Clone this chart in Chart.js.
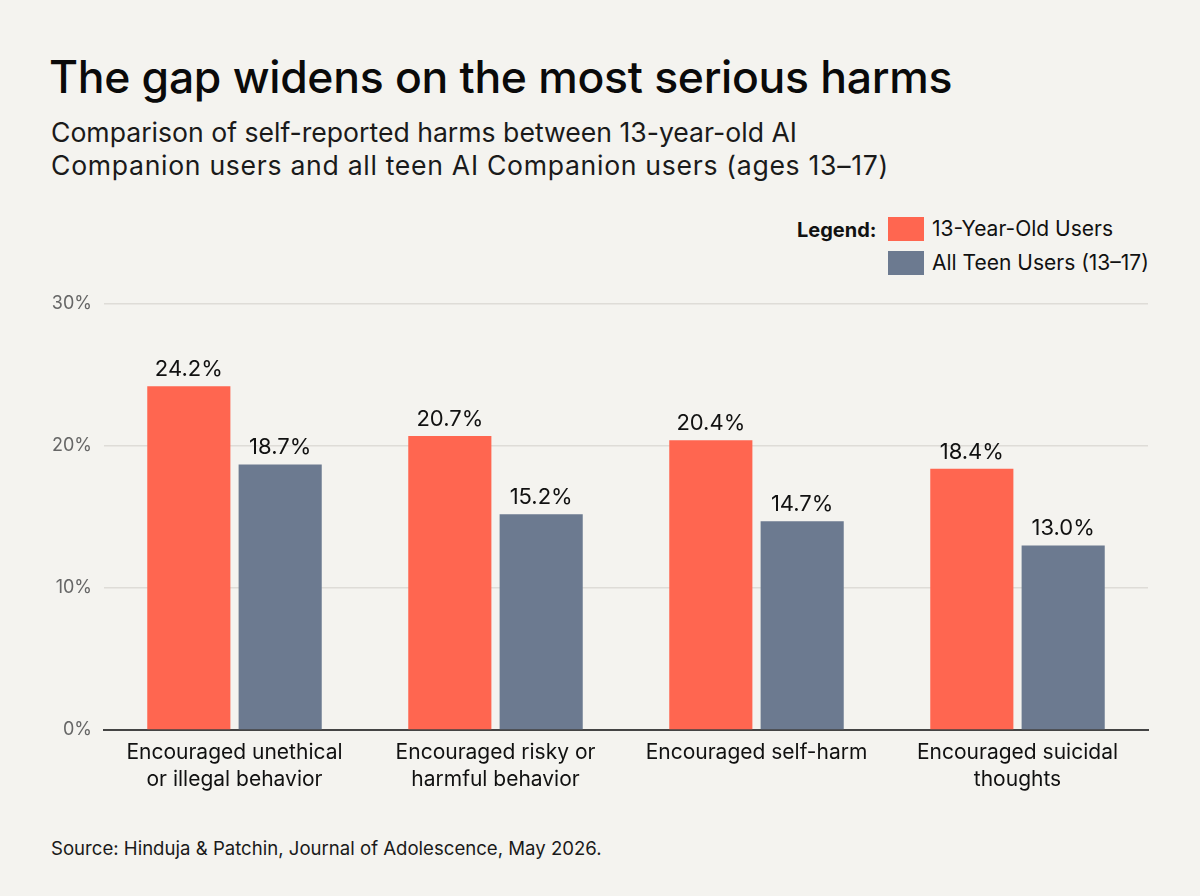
<!DOCTYPE html>
<html>
<head>
<meta charset="utf-8">
<script src="https://cdn.jsdelivr.net/npm/chart.js@4"></script>
<style>
  html, body { margin:0; padding:0; background:#F4F3EF; }
  body { width:1200px; height:896px; position:relative; overflow:hidden; font-family: Inter, "Noto Sans", sans-serif; color:#111; }
  #title { position:absolute; left:49px; top:50px; font-size:44.5px; font-weight:500; letter-spacing:-0.3px; line-height:54px; white-space:nowrap; color:#0a0a0a; }
  #subtitle { position:absolute; left:51px; top:116px; font-size:26.6px; font-weight:400; line-height:33px; color:#1a1a1a; white-space:nowrap; }
  #legend { position:absolute; left:797px; top:216px; font-size:21px; }
  .lg-row { position:absolute; white-space:nowrap; height:26px; line-height:26px; }
  .lg-sw { position:absolute; width:36px; height:24px; top:1px; }
  #source { position:absolute; left:51px; top:837px; font-size:18.6px; color:#1a1a1a; white-space:nowrap; }
  #chart { position:absolute; left:0; top:0; }
</style>
</head>
<body>
<div id="title">The gap widens on the most serious harms</div>
<div id="subtitle">Comparison of self-reported harms between 13-year-old AI<br><span style="letter-spacing:0.7px">Companion users and all teen AI Companion users (ages 13–17)</span></div>
<div id="legend"></div>
<div id="source">Source: Hinduja &amp; Patchin, Journal of Adolescence, May 2026.</div>
<canvas id="chart" width="1200" height="896"></canvas>
<script>
const categories = [
  ["Encouraged unethical", "or illegal behavior"],
  ["Encouraged risky or", "harmful behavior"],
  ["Encouraged self-harm"],
  ["Encouraged suicidal", "thoughts"]
];
const seriesNames = ["13-Year-Old Users", "All Teen Users (13–17)"];
const thirteenValues = [24.2, 20.7, 20.4, 18.4];
const allTeenValues = [18.7, 15.2, 14.7, 13.0];
const yTicks = [0, 10, 20, 30];
const colors = ["#FF6650", "#6C7A90"];

// legend (HTML)
const legend = document.getElementById('legend');
legend.innerHTML =
  '<div class="lg-row" style="left:0;top:1px;font-weight:700;font-size:20px;">Legend:</div>' +
  seriesNames.map((n, i) =>
    '<div class="lg-sw" style="left:91px;top:' + (1 + i*34) + 'px;background:' + colors[i] + ';"></div>' +
    '<div class="lg-row" style="left:135px;top:' + (i*34) + 'px;">' + n + '</div>'
  ).join('');

const valueLabels = {
  id: 'valueLabels',
  afterDatasetsDraw(chart) {
    const ctx = chart.ctx;
    ctx.save();
    ctx.font = '400 22px Inter, "Noto Sans", sans-serif';
    ctx.fillStyle = '#111';
    ctx.textAlign = 'center';
    ctx.textBaseline = 'alphabetic';
    chart.data.datasets.forEach((ds, di) => {
      chart.getDatasetMeta(di).data.forEach((bar, i) => {
        ctx.fillText(ds.data[i].toFixed(1) + '%', bar.x, bar.y - 10);
      });
    });
    ctx.restore();
  }
};

new Chart(document.getElementById('chart'), {
  type: 'bar',
  data: {
    labels: categories,
    datasets: [
      { label: seriesNames[0], data: thirteenValues, backgroundColor: colors[0] },
      { label: seriesNames[1], data: allTeenValues, backgroundColor: colors[1] }
    ]
  },
  options: {
    responsive: false,
    animation: false,
    devicePixelRatio: 1,
    layout: { padding: { left: 0, top: 304, right: 52, bottom: 96 } },
    categoryPercentage: 0.7,
    barPercentage: 0.91,
    plugins: { legend: { display: false }, tooltip: { enabled: false } },
    scales: {
      x: {
        grid: { display: false },
        border: { display: true, color: '#444', width: 2 },
        ticks: {
          color: '#111',
          font: { family: 'Inter, "Noto Sans", sans-serif', size: 21, lineHeight: 1.3 },
          padding: 1,
          maxRotation: 0,
          autoSkip: false
        },
        afterFit(scale) { scale.height = 70; }
      },
      y: {
        min: 0, max: 30,
        afterBuildTicks(scale) { scale.ticks = yTicks.map(v => ({ value: v })); },
        grid: {
          drawTicks: false,
          color: ctx => ctx.tick && ctx.tick.value === 0 ? 'rgba(0,0,0,0)' : '#DEDCD7',
          lineWidth: 1.5
        },
        border: { display: false },
        ticks: {
          color: '#666',
          font: { family: 'Inter, "Noto Sans", sans-serif', size: 18 },
          padding: 12,
          callback: v => v + '%'
        },
        afterFit(scale) { scale.width = 104; }
      }
    }
  },
  plugins: [valueLabels]
});
</script>
</body>
</html>
